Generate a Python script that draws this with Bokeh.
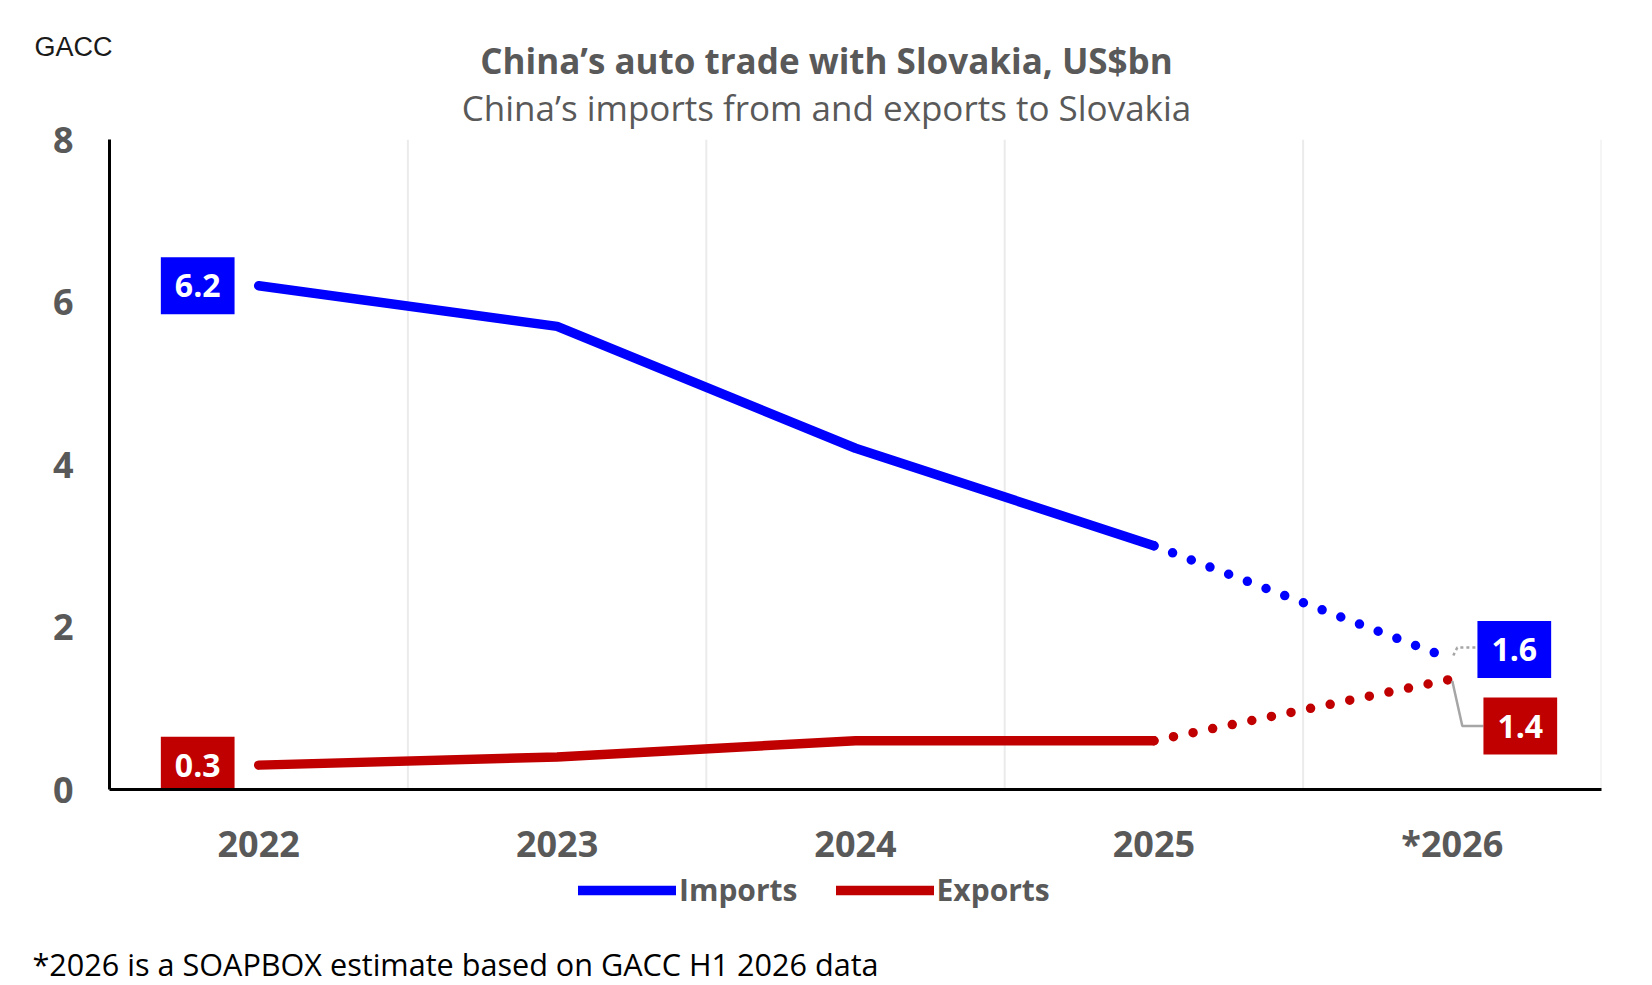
from bokeh.plotting import figure
from bokeh.layouts import column
from bokeh.models import (FactorRange, Range1d, FixedTicker, Span, Label,
                          Legend, LegendItem, ColumnDataSource)
from bokeh.core.properties import value
from bokeh.embed import file_html
from bokeh.resources import INLINE

# ---------------- data ----------------
years = ["2022", "2023", "2024", "2025", "*2026"]
imports = [6.2, 5.7, 4.2, 3.0, 1.6]
exports = [0.3, 0.4, 0.6, 0.6, 1.36]
y_ticks = [0, 2, 4, 6, 8]
series_names = ["Imports", "Exports"]

title_text = "China’s auto trade with Slovakia, US$bn"
subtitle_text = "China’s imports from and exports to Slovakia"
source_text = "GACC"
footnote_text = "*2026 is a SOAPBOX estimate based on GACC H1 2026 data"

# ---------------- style ----------------
BLUE = "#0000FF"
RED = "#C00000"
GREY = "#595959"
LEADER = "#A6A6A6"
FONT = "Open Sans"
LW = 9.5

W = 1652
HEAD_H = 139          # header ends where the plot frame starts
OVERLAP = 30          # main figure slides up under the header (transparent border)
L, R, T, B = 109, 51, OVERLAP, 80
FH = 651
MAIN_H = T + FH + B
FOOT_H = 985 - HEAD_H - FH - B
FW = W - L - R
Y_MAX = 8
PX_X = FW / len(years)
PX_Y = FH / Y_MAX


def no_align(f):
    try:
        f.frame_align = False
    except AttributeError:
        pass


def blank(h):
    f = figure(width=W, height=h, x_range=Range1d(0, 1), y_range=Range1d(0, 1),
               min_border=0, toolbar_location=None, output_backend="svg",
               x_axis_location=None, y_axis_location=None)
    f.outline_line_color = None
    f.grid.visible = False
    no_align(f)
    return f


# ---------------- header ----------------
head = blank(HEAD_H)
head.add_layout(Label(x=34, y=93, x_units="screen", y_units="screen", text=source_text,
                      text_align="left", text_baseline="alphabetic",
                      text_font="Liberation Sans", text_font_size="27px",
                      text_color="#1a1a1a"))
head.add_layout(Label(x=826, y=79, x_units="screen", y_units="screen", text=title_text,
                      text_align="center", text_baseline="alphabetic",
                      text_font=FONT, text_font_style="bold", text_font_size="35px",
                      text_color=GREY))
head.add_layout(Label(x=826, y=32, x_units="screen", y_units="screen", text=subtitle_text,
                      text_align="center", text_baseline="alphabetic",
                      text_font=FONT, text_font_size="35px", text_color=GREY))

# ---------------- main chart ----------------
p = figure(width=W, height=MAIN_H,
           x_range=FactorRange(*years), y_range=Range1d(0, Y_MAX),
           output_backend="svg", toolbar_location=None,
           min_border_left=L, min_border_right=R,
           min_border_top=T, min_border_bottom=B)
no_align(p)
p.margin = (-OVERLAP, 0, 0, 0)
p.border_fill_alpha = 0
p.outline_line_color = None
p.xgrid.grid_line_color = None
p.ygrid.grid_line_color = None

for i in range(1, len(years) + 1):
    p.add_layout(Span(location=i, dimension="height", line_color="#EBEBEB",
                      line_width=2, level="underlay"))

for ax in (p.xaxis[0], p.yaxis[0]):
    ax.axis_line_color = "black"
    ax.axis_line_width = 3
    ax.major_tick_line_color = None
    ax.minor_tick_line_color = None
    ax.major_label_text_font = FONT
    ax.major_label_text_font_style = "bold"
    ax.major_label_text_font_size = "36px"
    ax.major_label_text_color = GREY
p.yaxis.ticker = FixedTicker(ticks=y_ticks)
p.yaxis.major_label_standoff = 30
p.xaxis.major_label_standoff = 23

n_act = len(years) - 1
p.line(x=years[:n_act], y=imports[:n_act], line_color=BLUE, line_width=LW,
       line_cap="round", line_join="round")
p.line(x=years[n_act - 1:], y=imports[n_act - 1:], line_color=BLUE, line_width=LW,
       line_cap="round", line_dash="0 20")
p.line(x=years[:n_act], y=exports[:n_act], line_color=RED, line_width=LW,
       line_cap="round", line_join="round")
p.line(x=years[n_act - 1:], y=exports[n_act - 1:], line_color=RED, line_width=LW,
       line_cap="round", line_dash="0 20")


def leader(cat, val, offs):
    c = years.index(cat) + 0.5
    xs = [c + dx / PX_X for dx, dy in offs]
    ys = [val - dy / PX_Y for dx, dy in offs]
    return xs, ys


lx, ly = leader(years[-1], imports[-1], [(1, -4), (5, -12), (26, -12)])
p.line(lx, ly, line_color=LEADER, line_width=2.5, line_dash="3 3")
lx, ly = leader(years[-1], exports[-1], [(0, 2), (10, 47), (31, 47)])
p.line(lx, ly, line_color=LEADER, line_width=2.5)

lab_src = ColumnDataSource(dict(
    x=[years[0], years[0], years[-1], years[-1]],
    y=[imports[0], exports[0], imports[-1], exports[-1]],
    text=[f"{v:.1f}" for v in (imports[0], exports[0], imports[-1], exports[-1])],
    bg=[BLUE, RED, BLUE, RED],
    dx=[-61, -61, 62, 68],
    dy=[0, 0, -10, 47],
))
p.text(x="x", y="y", text="text", source=lab_src, x_offset="dx", y_offset="dy",
       anchor="center", text_align="center", text_baseline="middle",
       text_color="white", text_font=value(FONT), text_font_style="bold",
       text_font_size="32px", background_fill_color="bg",
       padding=dict(left=14, right=14, top=17, bottom=17))

# ---------------- footer ----------------
foot = blank(FOOT_H)
nan = float("nan")
r_imp = foot.line(x=[0, 1], y=[nan, nan], line_color=BLUE, line_width=LW, line_cap="round")
r_exp = foot.line(x=[0, 1], y=[nan, nan], line_color=RED, line_width=LW, line_cap="round")
legend = Legend(items=[LegendItem(label=series_names[0], renderers=[r_imp]),
                       LegendItem(label=series_names[1], renderers=[r_exp])],
                orientation="horizontal", location=(578, 75),
                glyph_width=98, glyph_height=20, label_standoff=3, spacing=38,
                padding=0, margin=0, border_line_color=None,
                background_fill_alpha=0,
                label_text_font=FONT, label_text_font_style="bold",
                label_text_font_size="30px", label_text_color=GREY)
foot.add_layout(legend, "center")
foot.add_layout(Label(x=32, y=22, x_units="screen", y_units="screen", text=footnote_text,
                      text_align="left", text_baseline="alphabetic",
                      text_font=FONT, text_font_size="30.6px", text_color="black"))

layout = column(head, p, foot, spacing=0)
open("out.html", "w").write(file_html(layout, INLINE))
